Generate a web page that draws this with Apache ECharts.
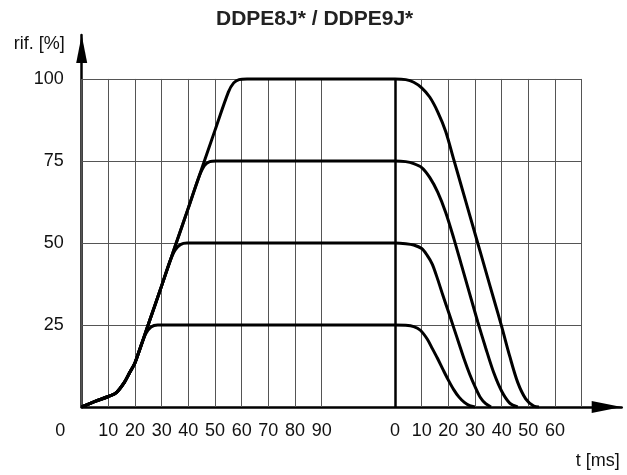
<!DOCTYPE html>
<html>
<head>
<meta charset="utf-8">
<script src="https://cdn.jsdelivr.net/npm/echarts@6/dist/echarts.min.js"></script>
<style>html,body{margin:0;padding:0;background:#fff}#c{width:627px;height:475px}</style>
</head>
<body>
<div id="c"></div>
<script>
// ---- data (ms, %) ----
const TITLE = 'DDPE8J* / DDPE9J*';
const Y_NAME = 'rif. [%]';
const X_NAME = 't [ms]';
const Y_TICKS = [25, 50, 75, 100];
const RISE_LABELS = [10, 20, 30, 40, 50, 60, 70, 80, 90];
const FALL_LABELS = [0, 10, 20, 30, 40, 50, 60];
const RISE_GRID = [10, 20, 30, 40, 50, 60, 70, 80, 90];
const FALL_GRID = [10, 20, 30, 40, 50, 60, 70];
const H_GRID = [25, 50, 75, 100];

// rise part (time from start, ms)
const rise25 = [[0,0],[5,1.7],[10,3.2],[13,4.4],[16,7.5],[18,10.5],[20,13.5],[22,18.2],[24,22.3],[26,24.4],[28.5,25]];
const rise50 = [[0,0],[5,1.7],[10,3.2],[13,4.4],[16,7.5],[18,10.5],[20,13.5],[25,25.2],[30,37],[33,44.2],[35,47.8],[37,49.5],[39.5,50]];
const rise75 = [[0,0],[5,1.7],[10,3.2],[13,4.4],[16,7.5],[18,10.5],[20,13.5],[25,25.2],[30,37],[35,48.9],[40,60.7],[44,70.2],[46,73.6],[48,74.8],[50.5,75]];
const rise100 = [[0,0],[5,1.7],[10,3.2],[13,4.4],[16,7.5],[18,10.5],[20,13.5],[25,25.2],[30,37],[35,48.9],[40,60.7],[45,72.6],[50,84.4],[55,96],[57,98.8],[59,99.8],[62,100]];

// fall part (time from release, ms)
const fall25 = [[0,25],[4,24.9],[7,24.5],[9.5,23.4],[12,20.8],[14,17.8],[16,14.7],[18,11.4],[20,8.2],[22,5.3],[24,3],[26,1.4],[28,0.4],[30,0]];
const fall50 = [[0,50],[4,49.8],[7,49.4],[10,48.3],[12,46.3],[14,43.5],[16,38.9],[18,33.9],[20,29.1],[22,24.2],[24,19.3],[26,14.4],[28,10],[30,6.2],[32,2.9],[34,1],[36,0]];
const fall75 = [[0,75],[4,74.8],[7,74.2],[10,73],[13,70],[16,65.5],[19,59.3],[22,51.5],[25,43],[28,34.5],[31,26],[34,18],[37,10.5],[40,4.8],[43,1.2],[46,0]];
const fall100 = [[0,100],[4,99.8],[7,99],[10,97.3],[13,94.5],[16,90],[19,84],[22,75.5],[25,67],[28,58.5],[31,50],[34,41.5],[37,33],[40,24.5],[43,15.5],[46,7.5],[49,2.5],[52,0.3],[54,0]];

// ---- layout of the broken time axis ----
const FALL_OFFSET = 117.5;   // axis position of the fall segment's 0
const X_END = 187.5;         // end of grid (fall 70 ms)
const X_MAX = 202.5;         // arrow tip

function joinCurve(rise, fall) {
  return rise.concat(fall.map(p => [p[0] + FALL_OFFSET, p[1]]));
}

const vLines = [0].concat(RISE_GRID).map(x => [{coord:[x,0]},{coord:[x,100]}])
  .concat(FALL_GRID.map(x => [{coord:[x + FALL_OFFSET,0]},{coord:[x + FALL_OFFSET,100]}]));
const hLines = H_GRID.map(y => [{coord:[0,y]},{coord:[X_END,y]}]);

const FONT = 'Liberation Sans, Arial, sans-serif';
const TXT = '#111';

function curve(data) {
  return {
    type: 'line', data: data, showSymbol: false, smooth: 0.3, z: 5,
    lineStyle: {color: '#000', width: 3}, itemStyle: {color: '#000'}
  };
}

const chart = echarts.init(document.getElementById('c'), null, {renderer: 'canvas'});
chart.setOption({
  animation: false,
  backgroundColor: '#fff',
  textStyle: {fontFamily: FONT},
  title: {
    text: TITLE, left: 216, top: 9, padding: 0,
    textStyle: {fontSize: 21, fontWeight: 'bold', color: '#222', fontFamily: FONT}
  },
  grid: {left: 81.7, top: 35, width: 540, height: 372},
  xAxis: {
    type: 'value', min: 0, max: X_MAX, interval: 2.5,
    splitLine: {show: false}, axisTick: {show: false},
    axisLine: {show: true, lineStyle: {color: '#000', width: 2.5},
      symbol: ['none', 'triangle'], symbolSize: [12, 30], symbolOffset: [0, -15]},
    axisLabel: {
      fontSize: 18, color: TXT, margin: 15, fontFamily: FONT,
      formatter: function (v) {
        const r = Math.round(v * 100) / 100;
        if (r === 0) return '{o|0}';
        if (RISE_LABELS.indexOf(r) >= 0) return String(r);
        const f = Math.round((r - FALL_OFFSET) * 100) / 100;
        if (FALL_LABELS.indexOf(f) >= 0) return String(f);
        return '';
      },
      rich: {o: {fontSize: 18, color: TXT, padding: [0, 43, 0, 0], fontFamily: FONT}}
    },
    name: X_NAME, nameLocation: 'end', nameGap: -2,
    nameTextStyle: {fontSize: 18, color: TXT, align: 'right', verticalAlign: 'top', padding: [45, 0, 0, 0], fontFamily: FONT}
  },
  yAxis: {
    type: 'value', min: 0, max: 113.4, interval: 25,
    splitLine: {show: false}, axisTick: {show: false},
    axisLine: {show: true, lineStyle: {color: '#000', width: 2.5},
      symbol: ['none', 'triangle'], symbolSize: [11, 28], symbolOffset: [0, -14]},
    axisLabel: {
      fontSize: 18, color: TXT, margin: 18, fontFamily: FONT,
      formatter: function (v) { return Y_TICKS.indexOf(v) >= 0 ? String(v) : ''; }
    },
    name: Y_NAME, nameLocation: 'end', nameGap: -9,
    nameTextStyle: {fontSize: 18, color: TXT, align: 'right', verticalAlign: 'middle', padding: [0, 17, 0, 0], fontFamily: FONT}
  },
  series: [
    {
      type: 'line', data: [], z: 1, silent: true,
      markLine: {
        silent: true, symbol: ['none', 'none'], label: {show: false},
        lineStyle: {color: '#555', width: 1, type: 'solid'},
        emphasis: {disabled: true},
        data: vLines.concat(hLines)
      }
    },
    {
      type: 'line', data: [], z: 2, silent: true,
      markLine: {
        silent: true, symbol: ['none', 'none'], label: {show: false},
        lineStyle: {color: '#000', width: 2.5, type: 'solid'},
        emphasis: {disabled: true},
        data: [[{coord:[FALL_OFFSET,0]},{coord:[FALL_OFFSET,100]}]]
      }
    },
    curve(joinCurve(rise25, fall25)),
    curve(joinCurve(rise50, fall50)),
    curve(joinCurve(rise75, fall75)),
    curve(joinCurve(rise100, fall100))
  ]
});
</script>
</body>
</html>
